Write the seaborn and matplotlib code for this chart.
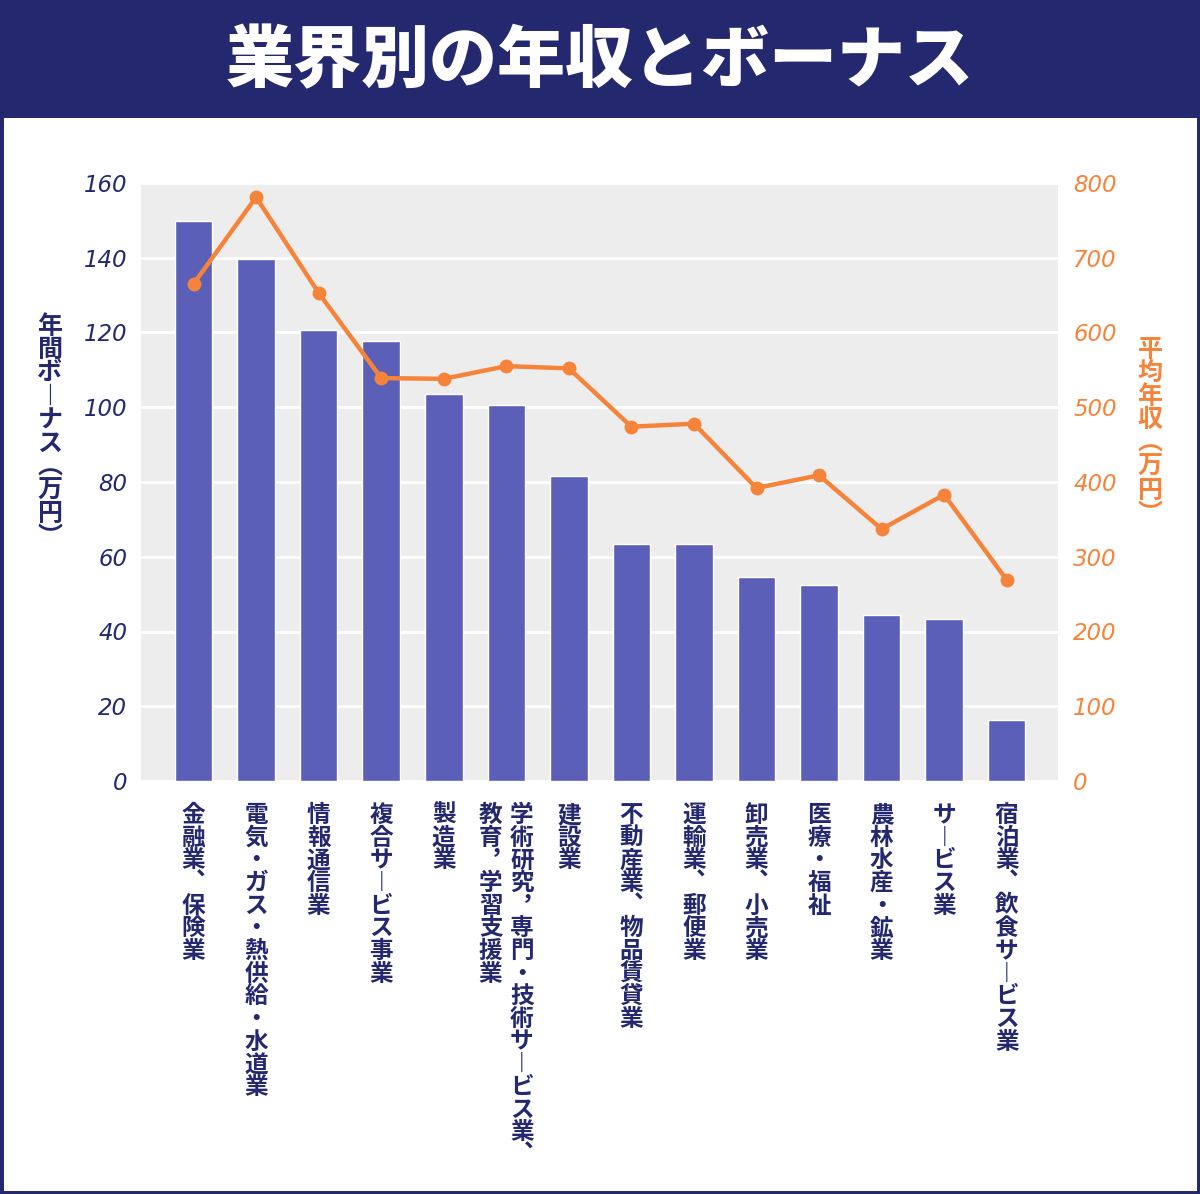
import numpy as np
import pandas as pd
import matplotlib
matplotlib.use("Agg")
import matplotlib.pyplot as plt
import matplotlib.transforms as mtransforms
from matplotlib.patches import Rectangle
import seaborn as sns

# data
industries = [
    "金融業、保険業",
    "電気・ガス・熱供給・水道業",
    "情報通信業",
    "複合サービス事業",
    "製造業",
    "学術研究，専門・技術サービス業、\n教育，学習支援業",
    "建設業",
    "不動産業、物品賃貸業",
    "運輸業、郵便業",
    "卸売業、小売業",
    "医療・福祉",
    "農林水産・鉱業",
    "サービス業",
    "宿泊業、飲食サービス業",
]
bonus = [149.8, 139.7, 120.7, 117.7, 103.5, 100.6, 81.6, 63.4, 63.4, 54.6, 52.4, 44.4, 43.3, 16.3]
income = [665, 781, 653, 539, 538, 555, 552, 474, 478, 392, 409, 337, 383, 269]
bonus_ticks = [0, 20, 40, 60, 80, 100, 120, 140, 160]
income_ticks = [0, 100, 200, 300, 400, 500, 600, 700, 800]

NAVY = "#23286f"
BAR = "#5b5fb8"
ORANGE = "#f5843a"
JP = ["Noto Sans CJK JP", "DejaVu Sans"]

sns.set_theme(style="white")
plt.rcParams["font.family"] = JP

VERT = {"ー": "︱", "、": "︑", "，": "︐", "(": "︵", ")": "︶", "（": "︵", "）": "︶"}


def vertical(s):
    return "\n".join(VERT.get(c, c) for c in s)


df = pd.DataFrame({"industry": [s.replace("\n", "") for s in industries],
                   "bonus": bonus, "income": income})
df["pos"] = np.arange(len(df))

fig = plt.figure(figsize=(12, 11.94), dpi=100)
W, H = 1200, 1194

# banner + frame
fig.patches.append(Rectangle((0, 1 - 118 / H), 1, 118 / H, transform=fig.transFigure,
                             facecolor=NAVY, edgecolor="none", zorder=0))
fig.patches.append(Rectangle((0, 0), 1, 1, transform=fig.transFigure, fill=False,
                             edgecolor=NAVY, linewidth=5, zorder=5))
fig.text(0.5, 1 - 62 / H, "業界別の年収とボーナス", ha="center", va="center",
         color="white", fontsize=49, fontweight="heavy", family=JP)

ax = fig.add_axes([141 / W, 1 - 781 / H, 917 / W, 598 / H])
ax.set_facecolor("#ededed")

sns.barplot(data=df, x="pos", y="bonus", color=BAR, width=0.6, saturation=1,
            ax=ax, zorder=2)
ax.set_ylim(0, 160)
ax.set_yticks(bonus_ticks)
ax.set_xlim(-0.84, len(df) - 1 + 0.82)
ax.grid(axis="y", color="white", linewidth=2, zorder=1)
ax.set_axisbelow(True)
for sp in ax.spines.values():
    sp.set_visible(False)
ax.set_xticks([])
ax.set_xlabel("")
ax.set_ylabel("")
ax.tick_params(axis="y", length=0, pad=10)
for t in ax.get_yticklabels():
    t.set_fontstyle("italic")
    t.set_fontsize(16.5)
    t.set_color(NAVY)
    t.set_family("DejaVu Sans")

ax2 = ax.twinx()
sns.lineplot(data=df, x="pos", y="income", ax=ax2, color=ORANGE, linewidth=3.2,
             marker="o", markersize=10, markeredgewidth=0, zorder=3)
ax2.set_ylim(0, 800)
ax2.set_yticks(income_ticks)
ax2.set_ylabel("")
ax2.set_xlabel("")
for sp in ax2.spines.values():
    sp.set_visible(False)
ax2.tick_params(axis="y", length=0, pad=11)
for t in ax2.get_yticklabels():
    t.set_fontstyle("italic")
    t.set_fontsize(16.5)
    t.set_color(ORANGE)
    t.set_family("DejaVu Sans")
ax2.set_xlim(ax.get_xlim())

# vertical category labels under each bar
trans = mtransforms.blended_transform_factory(ax.transData, fig.transFigure)
for i, name in enumerate(industries):
    cols = name.split("\n")
    n = len(cols)
    for j, col in enumerate(cols):
        off = (n - 1) / 2 * 0.5 - j * 0.5
        ax.text(i + off, 1 - 803 / H, vertical(col), transform=trans, ha="center",
                va="top", fontsize=17, fontweight="bold", color=NAVY,
                linespacing=0.93, family=JP)

# axis titles
fig.text(50 / W, 1 - 432 / H, vertical("年間ボーナス(万円)"), ha="center", va="center",
         fontsize=18, fontweight="bold", color=NAVY, linespacing=0.97, family=JP)
fig.text(1150 / W, 1 - 432 / H, vertical("平均年収(万円)"), ha="center", va="center",
         fontsize=18, fontweight="bold", color=ORANGE, linespacing=0.97, family=JP)

fig.savefig("out.png", dpi=100, facecolor="white")
